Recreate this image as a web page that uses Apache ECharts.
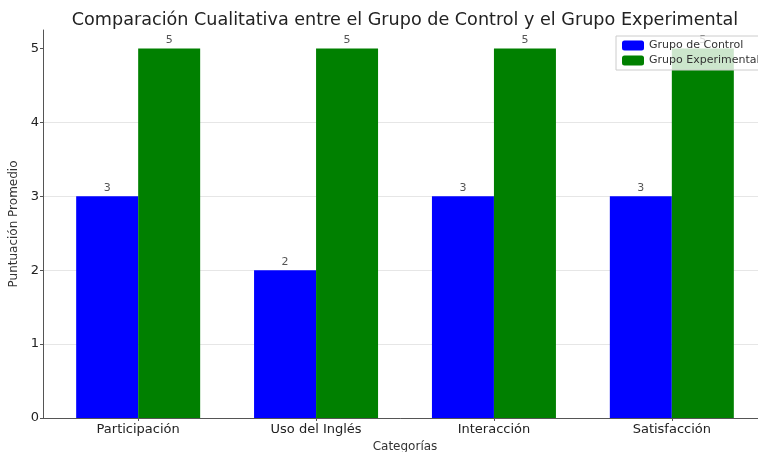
<!DOCTYPE html>
<html lang="es">
<head>
    <meta charset="UTF-8">
    <title>Comparación Cualitativa</title>
    <script src="https://cdn.jsdelivr.net/npm/echarts/dist/echarts.min.js"></script>
    <style>
        body { margin: 0; background: #fff; }
        #main { width: 758px; height: 452px; }
    </style>
</head>
<body>
    <div id="main"></div>
    <script>
        var categories = ['Participación', 'Uso del Inglés', 'Interacción', 'Satisfacción'];
        var controlValues = [3, 2, 3, 3];
        var experimentalValues = [5, 5, 5, 5];
        var yTicks = [0, 1, 2, 3, 4, 5];

        var chart = echarts.init(document.getElementById('main'));
        var font = 'DejaVu Sans';

        function toPoints(values) {
            return values.map(function (v, i) { return [i, v]; });
        }

        var barLabel = {
            show: true,
            position: 'top',
            distance: 3,
            color: '#555',
            fontSize: 11,
            fontFamily: font
        };

        var option = {
            animation: false,
            title: {
                text: 'Comparación Cualitativa entre el Grupo de Control y el Grupo Experimental',
                left: 400,
                textAlign: 'center',
                top: 6,
                textStyle: { fontFamily: font, fontSize: 17.6, fontWeight: 'normal', color: '#222' }
            },
            legend: {
                orient: 'vertical',
                left: 616,
                top: 36,
                itemWidth: 22,
                itemHeight: 10,
                itemGap: 4,
                padding: [4, 6],
                backgroundColor: 'rgba(255,255,255,0.8)',
                borderColor: '#ccc',
                borderWidth: 1,
                textStyle: { fontFamily: font, fontSize: 11, color: '#333' },
                data: ['Grupo de Control', 'Grupo Experimental']
            },
            grid: { left: 43, right: -9, top: 30, bottom: 34, outerBoundsMode: 'none', containLabel: false },
            xAxis: {
                type: 'value',
                min: -0.535,
                max: 3.535,
                name: 'Categorías',
                nameLocation: 'middle',
                nameGap: 21,
                nameTextStyle: { fontFamily: font, fontSize: 12, color: '#333' },
                axisLine: { show: true, onZero: false, lineStyle: { color: '#555', width: 1 } },
                axisTick: { show: true, inside: false, length: 3, customValues: [0, 1, 2, 3], lineStyle: { color: '#555' } },
                axisLabel: {
                    customValues: [0, 1, 2, 3],
                    formatter: function (v) { return categories[Math.round(v)]; },
                    margin: 5,
                    fontFamily: font,
                    fontSize: 13,
                    color: '#222'
                },
                splitLine: { show: false }
            },
            yAxis: {
                type: 'value',
                min: 0,
                max: 5.25,
                interval: 1,
                name: 'Puntuación Promedio',
                nameLocation: 'middle',
                nameGap: 17,
                nameTextStyle: { fontFamily: font, fontSize: 12, color: '#333' },
                axisLine: { show: true, onZero: false, lineStyle: { color: '#555', width: 1 } },
                axisTick: { show: true, length: 3, customValues: yTicks, lineStyle: { color: '#555' } },
                axisLabel: {
                    customValues: yTicks,
                    margin: 4,
                    fontFamily: font,
                    fontSize: 13,
                    color: '#222'
                },
                splitLine: { show: true, showMaxLine: false, lineStyle: { color: '#e6e6e6', width: 1 } }
            },
            series: [
                {
                    name: 'Grupo de Control',
                    type: 'bar',
                    data: toPoints(controlValues),
                    barWidth: 62,
                    barGap: '0%',
                    itemStyle: { color: '#0000ff' },
                    label: barLabel
                },
                {
                    name: 'Grupo Experimental',
                    type: 'bar',
                    data: toPoints(experimentalValues),
                    barWidth: 62,
                    barGap: '0%',
                    itemStyle: { color: '#008000' },
                    label: barLabel
                }
            ]
        };

        chart.setOption(option);
    </script>
</body>
</html>
